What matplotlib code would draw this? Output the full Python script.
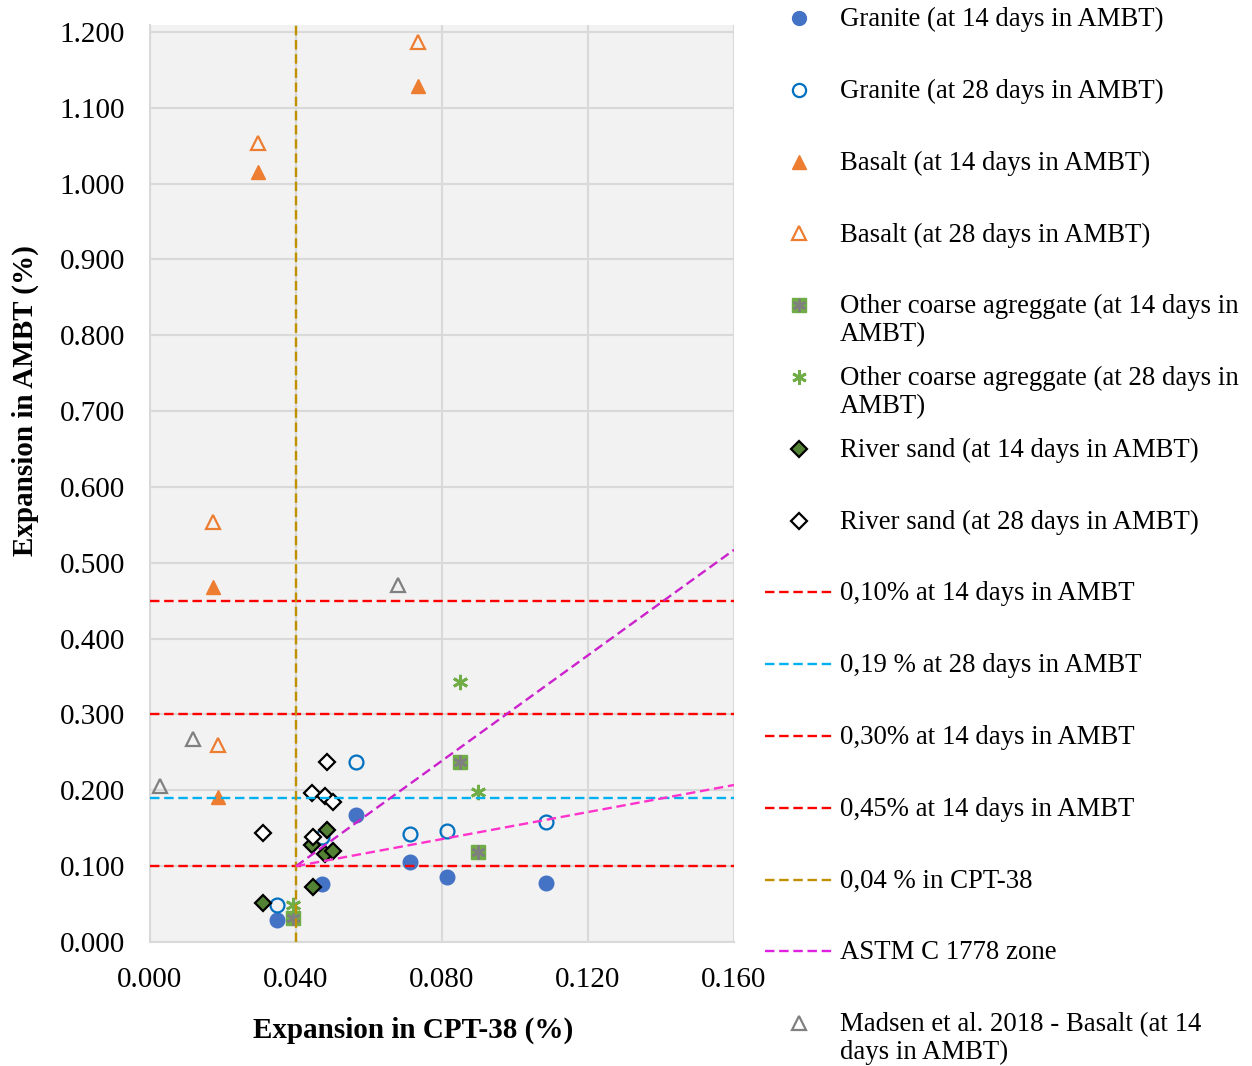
import matplotlib
matplotlib.use("Agg")
import matplotlib.pyplot as plt
from matplotlib.lines import Line2D

plt.rcParams["font.family"] = ["Liberation Serif", "DejaVu Serif"]
plt.rcParams["font.size"] = 21

# data
granite14_x = [0.0348, 0.0471, 0.0564, 0.0712, 0.0814, 0.1085]
granite14_y = [0.029, 0.077, 0.168, 0.105, 0.086, 0.078]
granite28_x = [0.0348, 0.0470, 0.0564, 0.0712, 0.0814, 0.1085]
granite28_y = [0.049, 0.138, 0.237, 0.142, 0.146, 0.158]
basalt14_x = [0.0173, 0.0186, 0.0296, 0.0734]
basalt14_y = [0.468, 0.191, 1.015, 1.129]
basalt28_x = [0.0173, 0.0186, 0.0296, 0.0734]
basalt28_y = [0.554, 0.260, 1.054, 1.186]
other14_x = [0.0392, 0.0849, 0.0899]
other14_y = [0.032, 0.237, 0.119]
other28_x = [0.0393, 0.0849, 0.0899]
other28_y = [0.049, 0.343, 0.198]
river14_x = [0.0310, 0.0447, 0.0443, 0.0486, 0.0479, 0.0500]
river14_y = [0.051, 0.072, 0.128, 0.148, 0.116, 0.120]
river28_x = [0.0309, 0.0486, 0.0445, 0.0479, 0.0500, 0.0447]
river28_y = [0.144, 0.237, 0.196, 0.193, 0.184, 0.138]
madsen_x = [0.0027, 0.0118, 0.0679]
madsen_y = [0.206, 0.268, 0.471]

limit_10 = 0.10
limit_19 = 0.19
limit_30 = 0.30
limit_45 = 0.45
limit_cpt = 0.04
astm_x = [0.04, 0.16]
astm_upper = [0.10, 0.517]
astm_lower = [0.10, 0.207]

labels = [
    "Granite (at 14 days in AMBT)",
    "Granite (at 28 days in AMBT)",
    "Basalt (at 14 days in AMBT)",
    "Basalt (at 28 days in AMBT)",
    "Other coarse agreggate (at 14 days in\nAMBT)",
    "Other coarse agreggate (at 28 days in\nAMBT)",
    "River sand (at 14 days in AMBT)",
    "River sand (at 28 days in AMBT)",
    "0,10% at 14 days in AMBT",
    "0,19 % at 28 days in AMBT",
    "0,30% at 14 days in AMBT",
    "0,45% at 14 days in AMBT",
    "0,04 % in CPT-38",
    "ASTM C 1778 zone",
    "Madsen et al. 2018 - Basalt (at 14\ndays in AMBT)",
]

W, H = 1252, 1066
fig = plt.figure(figsize=(W / 100, H / 100), dpi=100)
ax = fig.add_axes([150 / W, 124 / H, 584 / W, 917 / H])
ax.set_facecolor("#F2F2F2")

mk = dict(linestyle="none", zorder=2)
g14, = ax.plot(granite14_x, granite14_y, marker="o", ms=10.5, mfc="#4472C4", mec="#4472C4", **mk)
g28, = ax.plot(granite28_x, granite28_y, marker="o", ms=10, mfc="none", mec="#0070C0", mew=1.6, **mk)
b14, = ax.plot(basalt14_x, basalt14_y, marker="^", ms=10.5, mfc="#ED7D31", mec="#ED7D31", **mk)
b28, = ax.plot(basalt28_x, basalt28_y, marker="^", ms=10, mfc="none", mec="#ED7D31", mew=1.6, **mk)
o14a, = ax.plot(other14_x, other14_y, marker="s", ms=10.5, mfc="#70AD47", mec="#70AD47", **mk)
o14b, = ax.plot(other14_x, other14_y, marker=(6, 2, 0), ms=10, mec="#7F7F7F", mew=1.8, **mk)
o28, = ax.plot(other28_x, other28_y, marker=(6, 2, 0), ms=11, mec="#70AD47", mew=2.0, **mk)
r14, = ax.plot(river14_x, river14_y, marker="D", ms=8.5, mfc="#548235", mec="black", mew=1.6, **mk)
r28, = ax.plot(river28_x, river28_y, marker="D", ms=8.5, mfc="white", mec="black", mew=1.6, **mk)
mad, = ax.plot(madsen_x, madsen_y, marker="^", ms=10, mfc="none", mec="#808080", mew=1.6, **mk)

ls = dict(lw=1.7, dashes=(4, 2), zorder=3)
h10 = ax.axhline(limit_10, color="#FF0000", **ls)
h19 = ax.axhline(limit_19, color="#00B0F0", **ls)
h30 = ax.axhline(limit_30, color="#FF0000", **ls)
h45 = ax.axhline(limit_45, color="#FF0000", **ls)
vcp = ax.axvline(limit_cpt, color="#BF9000", **ls)
au, = ax.plot(astm_x, astm_upper, color="#CC22CC", **ls)
al, = ax.plot(astm_x, astm_lower, color="#FF33CC", **ls)

ax.set_xlim(0, 0.16)
ax.set_ylim(0, 1.209)
ax.set_xticks([0, 0.04, 0.08, 0.12, 0.16])
ax.set_yticks([i / 10 for i in range(13)])
ax.xaxis.set_major_formatter(plt.FormatStrFormatter("%.3f"))
ax.yaxis.set_major_formatter(plt.FormatStrFormatter("%.3f"))
ax.tick_params(length=0, labelsize=21)
ax.tick_params(axis="y", pad=18)
ax.tick_params(axis="x", pad=18)
ax.grid(True, color="#D9D9D9", lw=1.5, zorder=0)
ax.set_axisbelow(True)
for s in ["top", "right"]:
    ax.spines[s].set_visible(False)
for s in ["left", "bottom"]:
    ax.spines[s].set_color("#D9D9D9")
    ax.spines[s].set_linewidth(1.5)

ax.set_xlabel("Expansion in CPT-38 (%)", fontweight="bold", fontsize=21)
ax.set_ylabel("Expansion in AMBT (%)", fontweight="bold", fontsize=21)
ax.xaxis.set_label_coords(0.45, -0.081)
ax.yaxis.set_label_coords(-0.19, 0.59)

# legend laid out in fixed slots like the original
handles = [[g14], [g28], [b14], [b28], [o14a, o14b], [o28], [r14], [r28],
           [h10], [h19], [h30], [h45], [vcp], [au], [mad]]
line_keys = {8, 9, 10, 11, 12, 13}
for i, (hs, lab) in enumerate(zip(handles, labels)):
    yc = 18 + 71.8 * i
    for h in hs:
        if i in line_keys:
            key = Line2D([765 / W, 833 / W], [1 - yc / H] * 2)
        else:
            key = Line2D([799 / W], [1 - yc / H])
        key.update_from(h)
        key.set_clip_on(False)
        key.set_clip_box(None)
        if i == 13:
            key.set_color("#E020E0")
        if i not in line_keys:
            key.set_markersize(h.get_markersize() * 0.95)
        key.set_transform(fig.transFigure)
        fig.add_artist(key)
    fig.text(840 / W, 1 - (yc - 11) / H, lab, va="top", ha="left", fontsize=19.3,
             linespacing=1.15)

fig.savefig("out.png", dpi=100, facecolor="white")
